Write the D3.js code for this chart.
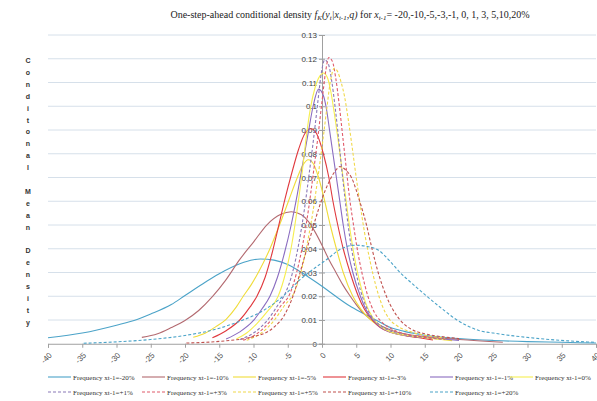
<!DOCTYPE html>
<html><head><meta charset="utf-8">
<script src="https://cdn.jsdelivr.net/npm/d3@7"></script>
<style>body{margin:0;background:#fff}svg{display:block}</style>
</head><body>
<svg id="c" width="597" height="401"></svg>
<script>
// ---------- data ----------
const legendLabels = ["Frequency xt-1=-20%","Frequency xt-1=-10%","Frequency xt-1=-5%","Frequency xt-1=-3%","Frequency xt-1=-1%","Frequency xt-1=0%",
  "Frequency xt-1=+1%","Frequency xt-1=+3%","Frequency xt-1=+5%","Frequency xt-1=+10%","Frequency xt-1=+20%"];
const xTicks = [-40,-35,-30,-25,-20,-15,-10,-5,0,5,10,15,20,25,30,35,40];
const yTicks = [0,0.01,0.02,0.03,0.04,0.05,0.06,0.07,0.08,0.09,0.1,0.11,0.12,0.13];
const yTickLabels = ["0","0.01","0.02","0.03","0.04","0.05","0.06","0.07","0.08","0.09","0.1","0.11","0.12","0.13"];
const yTitle = "Conditonal Mean Density";

const d_m20 = [[-40,0.0025],[-35,0.0045],[-30,0.0078],[-27,0.0102],[-25,0.0125],[-22,0.0165],[-20,0.0203],[-17,0.026],[-15,0.0295],[-12,0.0337],[-10,0.0354],[-9,0.0357],[-7,0.0352],[-5,0.0334],[-3,0.0300],[-1,0.0262],[0,0.0242],[2,0.0200],[4,0.016],[6,0.0128],[8,0.0098],[10,0.0068],[12,0.0052],[15,0.0036],[20,0.0022],[25,0.0014],[30,0.0009],[35,0.0006],[40,0.0003]];
const d_m10 = [[-26.3,0.0027],[-24,0.0042],[-22,0.0068],[-20,0.0098],[-18,0.014],[-16,0.0198],[-14,0.027],[-12,0.0355],[-10,0.0428],[-8,0.0502],[-6,0.0545],[-4.5,0.0556],[-3,0.0543],[-2,0.0515],[-1,0.047],[0,0.0415],[1,0.0355],[2,0.0302],[3,0.025],[4,0.0205],[5,0.0165],[6,0.013],[7,0.0105],[8,0.0085],[10,0.0058],[12,0.0042],[15,0.003],[20,0.0018],[26.4,0.0006]];
const d_m5 = [[-18.8,0.0027],[-17,0.0045],[-15.5,0.0072],[-14,0.0103],[-12.5,0.0155],[-11.5,0.02],[-10.3,0.025],[-9.3,0.03],[-7.6,0.04],[-6.2,0.05],[-4.9,0.06],[-3.6,0.07],[-2.8,0.0752],[-2,0.0775],[-1.2,0.0755],[-0.5,0.07],[0.4,0.06],[1.2,0.05],[2.1,0.04],[3.1,0.03],[4.5,0.02],[5.7,0.0145],[7,0.0103],[8.5,0.0072],[10,0.0052],[12,0.0036],[15,0.0025],[19,0.0013]];
const d_m3 = [[-16,0.0025],[-14,0.0055],[-12,0.01],[-10.5,0.0155],[-9.5,0.02],[-8.3,0.028],[-7.3,0.038],[-6.3,0.05],[-5.4,0.061],[-4.4,0.072],[-3.4,0.082],[-2.5,0.0885],[-1.6,0.0905],[-0.8,0.0885],[0.2,0.08],[1,0.07],[1.6,0.06],[2.3,0.05],[3.1,0.04],[4.1,0.03],[5.3,0.02],[6.2,0.0145],[7.3,0.0102],[8.5,0.0068],[10,0.0048],[12,0.0035],[14,0.0026],[16.2,0.0016]];
const d_m1 = [[-14,0.002],[-12,0.005],[-10,0.0098],[-8.8,0.0145],[-7.6,0.02],[-6.5,0.028],[-5.5,0.038],[-4.5,0.05],[-3.6,0.063],[-2.8,0.076],[-2,0.089],[-1.3,0.1],[-0.5,0.1072],[0.2,0.1045],[0.7,0.098],[1.1,0.09],[1.6,0.08],[2.1,0.07],[2.6,0.06],[3.1,0.05],[3.7,0.04],[4.5,0.03],[5.6,0.02],[6.4,0.0145],[7.4,0.0102],[8.5,0.007],[10,0.0048],[13,0.0032],[16,0.0024],[20,0.0014]];
const d_0 = [[-12.5,0.002],[-11,0.0045],[-9.5,0.0085],[-8,0.0135],[-6.4,0.02],[-5.3,0.03],[-4.4,0.042],[-3.6,0.057],[-2.9,0.072],[-2.3,0.087],[-1.7,0.099],[-1,0.108],[-0.3,0.1128],[0.2,0.114],[0.8,0.112],[1.3,0.106],[1.8,0.097],[2.3,0.087],[2.8,0.076],[3.3,0.065],[3.8,0.054],[4.3,0.044],[4.9,0.034],[5.6,0.025],[6.4,0.017],[7.4,0.011],[8.5,0.0075],[10,0.005],[13,0.0033],[16,0.0023],[18,0.0017]];
const d_p1 = [[-12,0.0018],[-10,0.0045],[-8,0.0098],[-6.5,0.016],[-5.4,0.021],[-4.3,0.03],[-3.4,0.042],[-2.6,0.056],[-1.9,0.071],[-1.2,0.087],[-0.6,0.102],[-0.1,0.114],[0.4,0.1195],[0.9,0.118],[1.4,0.111],[1.9,0.1],[2.4,0.087],[2.9,0.073],[3.4,0.06],[3.9,0.048],[4.5,0.037],[5.2,0.027],[6,0.019],[7,0.0125],[8,0.009],[9.5,0.006],[12,0.0038],[15,0.0026],[18,0.0018]];
const d_p3 = [[-11.5,0.0015],[-9.5,0.0042],[-7.5,0.0098],[-6,0.016],[-4.7,0.021],[-3.7,0.03],[-2.8,0.042],[-2,0.056],[-1.3,0.071],[-0.6,0.087],[0,0.102],[0.5,0.114],[1,0.1205],[1.5,0.119],[2,0.112],[2.5,0.101],[3,0.088],[3.5,0.075],[4,0.062],[4.6,0.05],[5.2,0.039],[5.9,0.029],[6.7,0.02],[7.6,0.0135],[8.6,0.0095],[10,0.0065],[12,0.0042],[15,0.0028],[18,0.002]];
const d_p5 = [[-11,0.0015],[-9,0.0042],[-7,0.0098],[-5.5,0.016],[-4,0.022],[-3,0.031],[-2.1,0.043],[-1.3,0.056],[-0.6,0.07],[0.1,0.085],[0.7,0.099],[1.2,0.11],[1.8,0.116],[2.3,0.1145],[2.8,0.11],[3.3,0.104],[3.8,0.095],[4.3,0.085],[4.9,0.072],[5.5,0.06],[6.2,0.047],[7,0.035],[7.9,0.024],[8.8,0.016],[9.8,0.0105],[11,0.0075],[13,0.005],[15,0.0036],[18,0.0024]];
const d_p10 = [[-19.8,0.0003],[-15,0.001],[-10,0.003],[-7,0.007],[-5.5,0.012],[-4,0.022],[-3,0.032],[-2,0.042],[-1,0.052],[0,0.061],[1,0.068],[2,0.073],[2.6,0.0746],[3.5,0.073],[4.3,0.07],[5.5,0.06],[6.5,0.05],[7.3,0.04],[8.2,0.03],[9.4,0.02],[11.4,0.01],[13,0.0062],[15,0.0042],[18,0.0028],[20,0.0022]];
const d_p20 = [[-34.8,0.0002],[-30,0.0008],[-25,0.0018],[-20,0.0035],[-15,0.0065],[-12,0.0095],[-9.5,0.0125],[-7,0.017],[-5.5,0.0205],[-3.2,0.027],[-1,0.032],[0.7,0.0355],[2.5,0.0395],[4.8,0.0415],[6.5,0.041],[8.2,0.0395],[10,0.0345],[11.4,0.03],[13.3,0.025],[15.3,0.02],[17.5,0.0148],[19.7,0.01],[21.5,0.0072],[23,0.0055],[25,0.0045],[28,0.0033],[32,0.0021],[36,0.0012],[40,0.0006]];

const seriesData = [d_m20,d_m10,d_m5,d_m3,d_m1,d_0,d_p1,d_p3,d_p5,d_p10,d_p20];
const seriesColors = ["#4ba3c8","#b36a70","#f0dc3a","#e0393e","#8a6cc0","#f6ee50","#8a78b8","#e05a6a","#f0d84a","#c0504d","#4ba3c8"];
const seriesDashed = [false,false,false,false,false,false,true,true,true,true,true];

// ---------- chart ----------
const svg = d3.select("#c");
const x = d3.scaleLinear().domain([-40,40]).range([48,596]);
const y = d3.scaleLinear().domain([0,0.13]).range([343.75,35]);

// gridlines
svg.append("g").selectAll("line").data(yTicks.slice(1)).join("line")
  .attr("x1",x(-40)).attr("x2",x(40)).attr("y1",d=>y(d)).attr("y2",d=>y(d))
  .attr("stroke","#d6e0ea").attr("stroke-width",1);

// y axis at x=0
const yAxis = d3.axisLeft(y).tickValues(yTicks).tickFormat((d,i)=>yTickLabels[i]).tickSize(3).tickPadding(2);
const gy = svg.append("g").attr("transform",`translate(${x(0)},0)`).call(yAxis);
gy.select(".domain").attr("stroke","#a0a0a0");
gy.selectAll(".tick line").attr("stroke","#a0a0a0").attr("x2",3).attr("x1",-3);
gy.selectAll(".tick text").attr("font-family","Liberation Sans, Arial, sans-serif").attr("font-size","8px").attr("fill","#404040");

// x axis
const xAxis = d3.axisBottom(x).tickValues(xTicks).tickSize(4).tickFormat(d=>d);
const gx = svg.append("g").attr("transform",`translate(0,${y(0)})`).call(xAxis);
gx.select(".domain").attr("stroke","#a0a0a0");
gx.selectAll(".tick line").attr("stroke","#a0a0a0");
gx.selectAll(".tick text").attr("font-family","Liberation Sans, Arial, sans-serif").attr("font-size","8px").attr("fill","#505050")
  .attr("text-anchor","end").attr("dy",null).attr("y",0)
  .attr("transform","translate(4,12) rotate(-45)");

// curves
const line = d3.line().x(d=>x(d[0])).y(d=>y(d[1])).curve(d3.curveMonotoneX);
svg.append("g").selectAll("path").data(seriesData).join("path")
  .attr("d",line).attr("fill","none")
  .attr("stroke",(d,i)=>seriesColors[i]).attr("stroke-width",1.1)
  .attr("stroke-dasharray",(d,i)=>seriesDashed[i]?"3,2":null);

// title
const title = svg.append("text").attr("x",350).attr("y",18).attr("text-anchor","middle")
  .attr("font-family","Liberation Serif, Times New Roman, serif").attr("font-size","10px").attr("fill","#222");
title.append("tspan").text("One-step-ahead conditional density ");
title.append("tspan").attr("font-style","italic").text("f");
title.append("tspan").attr("font-style","italic").attr("font-size","7px").attr("dy",2).text("K");
title.append("tspan").attr("font-style","italic").attr("dy",-2).text("(y");
title.append("tspan").attr("font-style","italic").attr("font-size","7px").attr("dy",2).text("t");
title.append("tspan").attr("font-style","italic").attr("dy",-2).text("|x");
title.append("tspan").attr("font-style","italic").attr("font-size","7px").attr("dy",2).text("t-1");
title.append("tspan").attr("font-style","italic").attr("dy",-2).text(",q)");
title.append("tspan").text(" for ");
title.append("tspan").attr("font-style","italic").text("x");
title.append("tspan").attr("font-style","italic").attr("font-size","7px").attr("dy",2).text("t-1");
title.append("tspan").attr("dy",-2).text("= -20,-10,-5,-3,-1, 0, 1, 3, 5,10,20%");

// y title: stacked letters
const letters = yTitle.split("");
svg.append("g").selectAll("text").data(letters).join("text")
  .attr("x",28).attr("y",(d,i)=>63+i*11.9).attr("text-anchor","middle")
  .attr("font-family","Liberation Sans, Arial, sans-serif").attr("font-size","7px").attr("font-weight","bold")
  .attr("fill","#333").text(d=>d===" "?"":d);

// legend
const legX = [48,142,233,323,430,510];
const legY = [377,392];
const leg = svg.append("g");
legendLabels.forEach((lab,i)=>{
  const row = i<6?0:1, col = i<6?i:i-6;
  const lx = legX[col], ly = legY[row];
  leg.append("line").attr("x1",lx).attr("x2",lx+23).attr("y1",ly).attr("y2",ly)
    .attr("stroke",seriesColors[i]).attr("stroke-width",1.1)
    .attr("stroke-dasharray",seriesDashed[i]?"3,2":null);
  leg.append("text").attr("x",lx+25).attr("y",ly+2.5)
    .attr("font-family","Liberation Serif, Times New Roman, serif").attr("font-size","7px").attr("fill","#333").text(lab);
});
</script>
</body></html>
